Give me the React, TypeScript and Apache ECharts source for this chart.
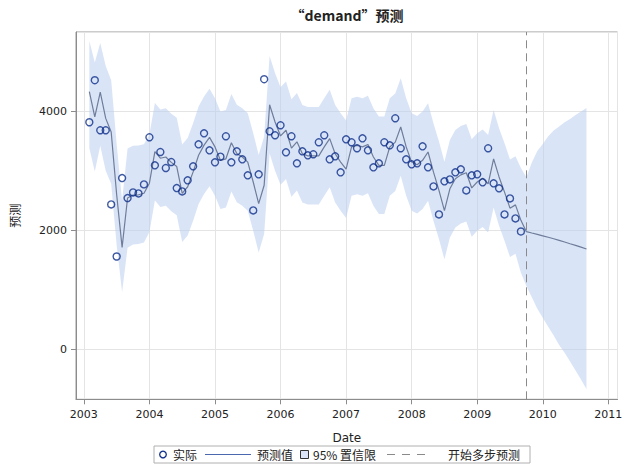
import React, { useEffect, useRef } from "react";
import * as echarts from "echarts";

// Monthly series, starting February 2003
const startYear = 2003;
const startMonth = 2; // 1-based
const forecastStart = 2009.75; // October 2009

const actual = [
  // 2003 Feb-Dec
  3815, 4522, 3680, 3680, 2433, 1557, 2876, 2539, 2635, 2618, 2770,
  // 2004
  3562, 3090, 3314, 3045, 3146, 2708, 2652, 2838, 3073, 3444, 3629, 3343,
  // 2005
  3141, 3236, 3579, 3141, 3326, 3191, 2922, 2332, 2939, 4539, 3663, 3596,
  // 2006
  3764, 3309, 3579, 3124, 3326, 3259, 3276, 3478, 3596, 3191, 3242, 2972,
  // 2007
  3528, 3478, 3377, 3545, 3343, 3057, 3124, 3478, 3427, 3882, 3377, 3191,
  // 2008
  3107, 3124, 3410, 3057, 2736, 2265, 2821, 2854, 2972, 3023, 2669, 2922,
  // 2009 Jan-Sep
  2939, 2804, 3377, 2787, 2703, 2265, 2534, 2197, 1978,
];

const predicted = [
  4330, 3905, 4320, 3880, 3650, 2600, 1710, 2540, 2590, 2595, 2620,
  2790, 3320, 3210, 3230, 3140, 3070, 2620, 2730, 2980, 3260, 3430, 3560,
  3400, 3175, 3200, 3470, 3290, 3230, 3145, 2810, 2445, 2755, 4110, 3820,
  3585, 3680, 3380, 3485, 3285, 3250, 3250, 3250, 3400, 3540, 3285, 3145,
  3025, 3400, 3425, 3400, 3440, 3230, 3090, 3090, 3400, 3480, 3735, 3400,
  3145, 3100, 3175, 3315, 2975, 2670, 2330, 2695, 2865, 2930, 2965, 2710,
  2810, 2875, 2780, 3200, 2895, 2640, 2370, 2425, 2165,
  // forecast Oct 2009 - Sep 2010
  1975, 1952, 1930, 1905, 1880, 1855, 1828, 1800, 1772, 1745, 1714, 1683,
];

const upper95 = [
  5180, 4820, 5150, 4760, 4520, 3450, 2500, 3375, 3420, 3423, 3446,
  3610, 4140, 4030, 4050, 3960, 3890, 3440, 3550, 3800, 4080, 4250, 4380,
  4220, 3995, 4020, 4290, 4110, 4050, 3965, 3630, 3265, 3575, 4930, 4640,
  4405, 4500, 4200, 4305, 4105, 4070, 4070, 4070, 4220, 4360, 4105, 3965,
  3845, 4220, 4245, 4220, 4260, 4050, 3910, 3910, 4220, 4300, 4555, 4220,
  3965, 3920, 3995, 4135, 3795, 3490, 3150, 3515, 3685, 3750, 3785, 3530,
  3630, 3695, 3600, 4020, 3715, 3460, 3190, 3245, 3045,
  2890, 3140, 3330, 3450, 3580, 3675, 3745, 3815, 3870, 3935, 3995, 4055,
];

const lower95 = [
  3380, 2985, 3420, 3000, 2780, 1750, 960, 1705, 1760, 1767, 1794,
  1970, 2500, 2390, 2410, 2320, 2250, 1800, 1910, 2160, 2440, 2610, 2740,
  2580, 2355, 2380, 2650, 2470, 2410, 2325, 1990, 1625, 1935, 3290, 3000,
  2765, 2860, 2560, 2665, 2465, 2430, 2430, 2430, 2580, 2720, 2465, 2325,
  2205, 2580, 2605, 2580, 2620, 2410, 2270, 2270, 2580, 2660, 2915, 2580,
  2325, 2280, 2355, 2495, 2155, 1850, 1510, 1875, 2045, 2110, 2145, 1890,
  1990, 2055, 1960, 2380, 2075, 1820, 1550, 1605, 1285,
  1060, 870, 680, 525, 375, 230, 70, -60, -210, -360, -510, -670,
];

const xTickLabels = ["2003", "2004", "2005", "2006", "2007", "2008", "2009", "2010", "2011"];

const TITLE = "“demand”预测";
const Y_NAME = "预测";
const X_NAME = "Date";
const LEGEND_LABELS = ["实际", "预测值", "95% 置信限", "开始多步预测"];

const MARKER = "#0f2f8a";
const LINE = "#6f7d9a";
const BAND = "rgba(185,205,240,0.55)";
const FONT = '"DejaVu Sans", "Noto Sans CJK SC", sans-serif';
const CJK = '"Noto Sans CJK SC", "DejaVu Sans", sans-serif';

function monthX(i: number): number {
  const m = startMonth - 1 + i;
  return startYear + Math.floor(m / 12) + (m % 12) / 12;
}

export default function App() {
  const ref = useRef<HTMLDivElement>(null);
  useEffect(() => {
    document.body.style.margin = "0";
    if (!ref.current) return;
    const chart = echarts.init(ref.current, undefined, { renderer: "svg" });

    const xs = predicted.map((_, i) => monthX(i));
    const actualData = actual.map((v, i) => [xs[i], v]);
    const predData = predicted.map((v, i) => [xs[i], v]);

    const lx = 154;
    const ly = 446;
    const cy = ly + 8.5;
    const legendText = (x: number, t: string) => ({
      type: "text",
      x,
      y: cy,
      style: { text: t, font: `12px ${CJK}`, fill: "#222", verticalAlign: "middle" },
    });

    chart.setOption({
      animation: false,
      title: {
        text: TITLE,
        left: 342,
        top: 3,
        textAlign: "center",
        textStyle: { fontFamily: CJK, fontSize: 14, fontWeight: "bold", color: "#222" },
      },
      grid: {
        left: 68,
        right: 10.5,
        top: 32,
        bottom: 71.7,
        show: true,
        borderColor: "#999",
        borderWidth: 1,
        backgroundColor: "transparent",
      },
      xAxis: {
        type: "value",
        min: 2002.88,
        max: 2011.14,
        minInterval: 1,
        maxInterval: 1,
        name: X_NAME,
        nameLocation: "middle",
        nameGap: 33,
        nameTextStyle: { fontFamily: FONT, fontSize: 12, color: "#222" },
        axisLine: { show: true, onZero: false, lineStyle: { color: "#8c8c8c" } },
        axisTick: { show: true, length: 5, lineStyle: { color: "#8c8c8c" } },
        axisLabel: {
          showMinLabel: false,
          showMaxLabel: false,
          fontFamily: FONT,
          fontSize: 11,
          color: "#222",
          margin: 10,
          formatter: (v: number) => {
            const lbl = xTickLabels.find((t) => Math.abs(Number(t) - v) < 1e-6);
            return lbl ?? "";
          },
        },
        splitLine: { show: true, lineStyle: { color: "#e4e4e4" } },
      },
      yAxis: {
        type: "value",
        min: -845,
        max: 5333,
        minInterval: 2000,
        maxInterval: 2000,
        name: Y_NAME,
        nameLocation: "middle",
        nameGap: 56,
        nameTextStyle: { fontFamily: CJK, fontSize: 12, color: "#222" },
        axisLine: { show: true, onZero: false, lineStyle: { color: "#8c8c8c" } },
        axisTick: { show: true, length: 5, lineStyle: { color: "#8c8c8c" } },
        axisLabel: {
          showMinLabel: false,
          showMaxLabel: false,
          fontFamily: FONT,
          fontSize: 11,
          color: "#222",
          margin: 9,
          formatter: (v: number) => String(Math.round(v)),
        },
        splitLine: { show: true, lineStyle: { color: "#e4e4e4" } },
      },
      series: [
        {
          name: LEGEND_LABELS[2],
          type: "custom",
          data: [[xs[0], upper95[0]]],
          silent: true,
          z: 1,
          renderItem: (_params: any, api: any) => {
            const pts: number[][] = [];
            for (let i = 0; i < upper95.length; i++) pts.push(api.coord([xs[i], upper95[i]]));
            for (let i = lower95.length - 1; i >= 0; i--) pts.push(api.coord([xs[i], lower95[i]]));
            return {
              type: "polygon",
              shape: { points: pts },
              style: { fill: BAND, stroke: "none" },
            };
          },
        },
        {
          name: LEGEND_LABELS[1],
          type: "line",
          data: predData,
          symbol: "none",
          lineStyle: { color: LINE, width: 1.2 },
          z: 3,
          markLine: {
            silent: true,
            symbol: "none",
            label: { show: false },
            lineStyle: { color: "#8a8a8a", type: [8, 5], width: 1 },
            data: [{ xAxis: forecastStart }],
          },
        },
        {
          name: LEGEND_LABELS[0],
          type: "scatter",
          data: actualData,
          symbol: "circle",
          symbolSize: 7,
          itemStyle: { color: "rgba(255,255,255,0)", borderColor: MARKER, borderWidth: 1.4 },
          z: 4,
        },
      ],
      graphic: [
        {
          type: "group",
          silent: true,
          children: [
            {
              type: "rect",
              shape: { x: lx, y: ly, width: 376, height: 17 },
              style: { fill: "#fff", stroke: "#b0b0b0", lineWidth: 1 },
            },
            {
              type: "circle",
              shape: { cx: 163, cy, r: 3.3 },
              style: { fill: "none", stroke: MARKER, lineWidth: 1.3 },
            },
            legendText(173, LEGEND_LABELS[0]),
            {
              type: "line",
              shape: { x1: 205, y1: cy, x2: 251, y2: cy },
              style: { stroke: "#4a67b0", lineWidth: 1 },
            },
            legendText(257, LEGEND_LABELS[1]),
            {
              type: "rect",
              shape: { x: 300.5, y: cy - 4, width: 8, height: 8 },
              style: { fill: "#dbe4f7", stroke: "#333", lineWidth: 1 },
            },
            legendText(313, LEGEND_LABELS[2]),
            {
              type: "line",
              shape: { x1: 387, y1: cy, x2: 432, y2: cy },
              style: { stroke: "#8a8a8a", lineWidth: 1, lineDash: [8, 7] },
            },
            legendText(448, LEGEND_LABELS[3]),
          ],
        },
      ],
    });
    return () => chart.dispose();
  }, []);
  return <div ref={ref} style={{ width: 628, height: 471 }} />;
}
